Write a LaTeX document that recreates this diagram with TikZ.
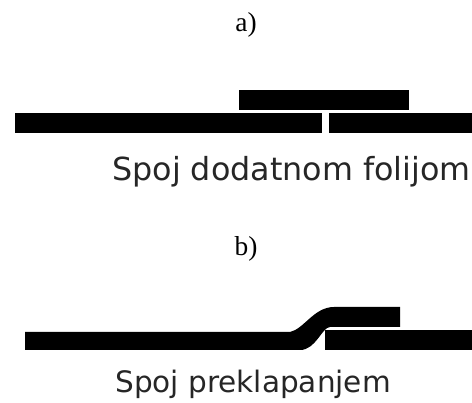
\documentclass[tikz,border=0pt]{standalone}
\usepackage{fontspec}
\setmainfont{Liberation Serif}
\newfontfamily\labelfont{DejaVu Sans}
\tikzset{
	foil/.style={fill=black},
	caption/.style={text=black!85,inner sep=0pt,anchor=base west},
	tag/.style={font=\fontsize{19.5}{23}\selectfont,inner sep=0pt}
}
\begin{document}
\begin{tikzpicture}[]

		\useasboundingbox (0,0) rectangle (11.8,10.075);

		\node (taga) at (6.15,9.45)[tag]{a)};
		\node (tagb) at (6.15,3.85)[tag]{b)};

		\fill [foil](5.975,7.825) rectangle (10.225,7.325);
		\fill [foil](0.375,7.25) rectangle (8.05,6.75);
		\fill [foil](8.225,7.25) rectangle (11.8,6.75);
		\node (capa) at (2.8,5.55)[caption,font=\labelfont\fontsize{22.6}{27}\selectfont]{Spoj dodatnom folijom};

		\fill [foil](0.625,1.775) -- (7.25,1.775) .. controls (7.6,1.85) and (7.85,2.4) .. (8.35,2.4) -- (10,2.4) -- (10,1.9) -- (8.25,1.9) .. controls (8.05,1.9) and (7.9,1.325) .. (7.5,1.325) -- (0.625,1.325) -- cycle;
		\fill [foil](8.125,1.825) rectangle (11.8,1.325);
		\node (capb) at (2.875,0.25)[caption,font=\labelfont\fontsize{21}{25}\selectfont]{Spoj preklapanjem};

	\end{tikzpicture}
\end{document}
